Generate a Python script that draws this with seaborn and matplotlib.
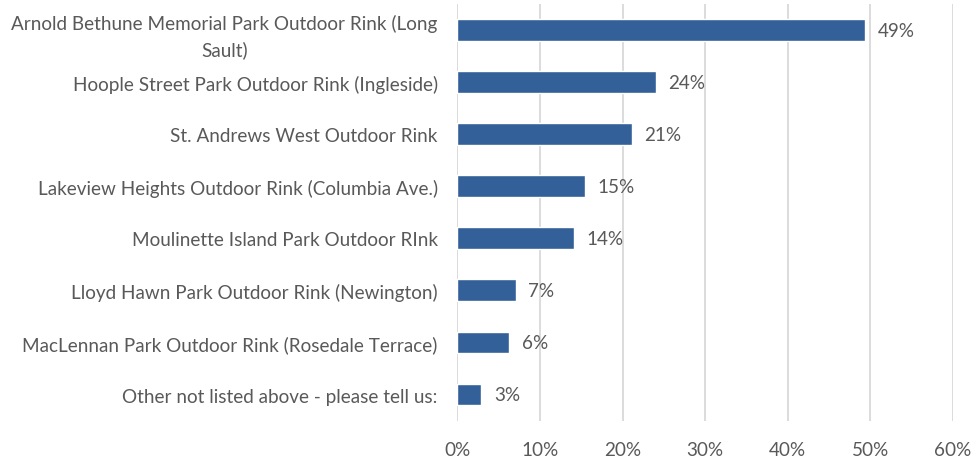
import matplotlib
matplotlib.use("Agg")
import matplotlib.pyplot as plt
import seaborn as sns
import pandas as pd
from matplotlib.ticker import FuncFormatter

categories = [
    "Arnold Bethune Memorial Park Outdoor Rink (Long\nSault)",
    "Hoople Street Park Outdoor Rink (Ingleside)",
    "St. Andrews West Outdoor Rink",
    "Lakeview Heights Outdoor Rink (Columbia Ave.)",
    "Moulinette Island Park Outdoor RInk",
    "Lloyd Hawn Park Outdoor Rink (Newington)",
    "MacLennan Park Outdoor Rink (Rosedale Terrace)",
    "Other not listed above - please tell us:",
]
values = [49.4, 24.0, 21.1, 15.5, 14.1, 7.1, 6.3, 2.9]
value_labels = ["49%", "24%", "21%", "15%", "14%", "7%", "6%", "3%"]
x_ticks = [0, 10, 20, 30, 40, 50, 60]

sns.set_style("white")
plt.rcParams["font.family"] = ["Lato", "DejaVu Sans"]

TEXT = "#595959"
BAR = "#34609A"
GRID = "#D9D9D9"
FS = 13.6

df = pd.DataFrame({"site": categories, "pct": values})

fig = plt.figure(figsize=(9.74, 4.6), dpi=100)
ax = fig.add_axes([0.4695, 0.0835, 0.509, 0.9055])

sns.barplot(data=df, x="pct", y="site", orient="h", color=BAR, width=0.42,
            saturation=1, ax=ax, zorder=3)

ax.set_xlim(0, 60)
ax.set_xticks(x_ticks)
ax.xaxis.set_major_formatter(FuncFormatter(lambda v, p: f"{v:.0f}%"))
ax.set_xlabel("")
ax.set_ylabel("")
ax.grid(axis="x", color=GRID, linewidth=1.3, zorder=0)
ax.grid(axis="y", visible=False)
for s in ax.spines.values():
    s.set_visible(False)
ax.tick_params(axis="both", length=0, labelsize=FS, colors=TEXT)
ax.tick_params(axis="y", pad=14)
ax.tick_params(axis="x", pad=15)
for lab in ax.get_yticklabels():
    lab.set_multialignment("center")
    lab.set_linespacing(1.55)

for i, (v, t) in enumerate(zip(values, value_labels)):
    ax.annotate(t, xy=(v, i), xytext=(9, 0), textcoords="offset points",
                ha="left", va="center", fontsize=FS, color=TEXT)

fig.savefig("out.png", dpi=100)
